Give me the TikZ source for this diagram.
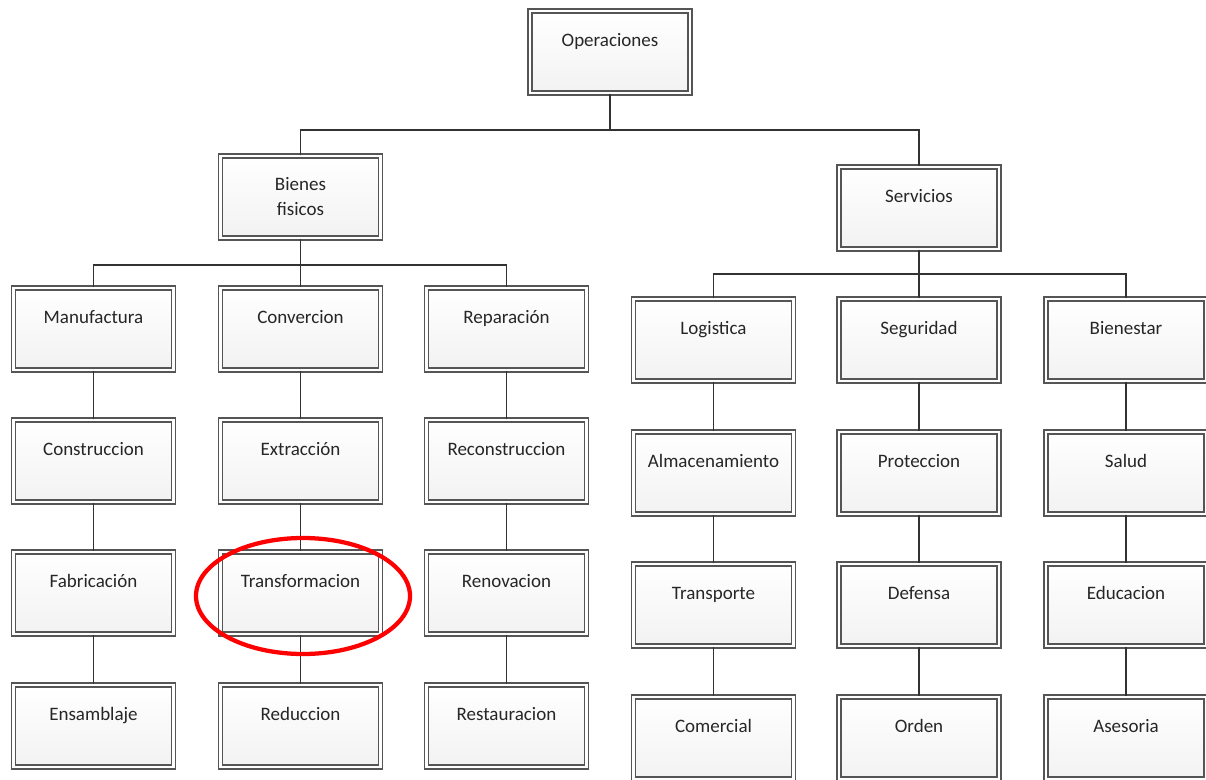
\documentclass[tikz,border=0pt]{standalone}
\usepackage{fontspec}
\setmainfont{Carlito}
\usetikzlibrary{shadows}
\definecolor{boxline}{RGB}{85,85,85}
\definecolor{linecol}{RGB}{50,50,50}
\begin{document}
\begin{tikzpicture}[x=0.75pt,y=-0.75pt,
  box/.style={draw=boxline, line width=0.8pt, double=white, double distance=2.2pt,
    top color=white, bottom color=black!5,
    general shadow={shadow xshift=0.8pt, shadow yshift=-0.8pt, fill=black, opacity=0.1},
    minimum width=120pt, minimum height=61.5pt, inner sep=0pt,
    font=\fontsize{14.25}{18.75}\selectfont, text=black!85,
    text height=9.75pt, text depth=18pt},
  twoline/.style={text height={}, text depth={}, align=center},
  link/.style={draw=linecol, line width=0.9pt}]
\useasboundingbox (0,0) rectangle (1206,780);

% root
\node[box] (op) at (610,52) {Operaciones};

% second level
\node[box, twoline] (bf) at (300.5,197) {Bienes\\fisicos};
\node[box] (sv) at (919,208) {Servicios};

% goods branch
\node[box] (a1) at (93.5,329) {Manufactura};
\node[box] (a2) at (93.5,461) {Construccion};
\node[box] (a3) at (93.5,593) {Fabricación};
\node[box] (a4) at (93.5,726) {Ensamblaje};

\node[box] (b1) at (300.5,329) {Convercion};
\node[box] (b2) at (300.5,461) {Extracción};
\node[box] (b3) at (300.5,593) {Transformacion};
\node[box] (b4) at (300.5,726) {Reduccion};

\node[box] (c1) at (506.5,329) {Reparación};
\node[box] (c2) at (506.5,461) {Reconstruccion};
\node[box] (c3) at (506.5,593) {Renovacion};
\node[box] (c4) at (506.5,726) {Restauracion};

% services branch
\node[box] (d1) at (713.5,340) {Logistica};
\node[box] (d2) at (713.5,473) {Almacenamiento};
\node[box] (d3) at (713.5,605) {Transporte};
\node[box] (d4) at (713.5,738) {Comercial};

\node[box] (e1) at (919,340) {Seguridad};
\node[box] (e2) at (919,473) {Proteccion};
\node[box] (e3) at (919,605) {Defensa};
\node[box] (e4) at (919,738) {Orden};

\node[box] (f1) at (1126,340) {Bienestar};
\node[box] (f2) at (1126,473) {Salud};
\node[box] (f3) at (1126,605) {Educacion};
\node[box] (f4) at (1126,738) {Asesoria};

% junction points of the buses
\coordinate (j0) at (610,130);
\coordinate (j1) at (300.5,265);
\coordinate (j2) at (919,274);

% connectors
\draw[link] (op.south) -- (j0);
\draw[link] (bf.north) |- (j0) -| (sv.north);

\draw[link] (bf.south) -- (j1);
\draw[link] (a1.north) |- (j1) -| (c1.north);
\draw[link] (j1) -- (b1.north);

\draw[link] (sv.south) -- (j2);
\draw[link] (d1.north) |- (j2) -| (f1.north);
\draw[link] (j2) -- (e1.north);

\foreach \c in {a,b,c,d,e,f}{
  \draw[link] (\c1) -- (\c2);
  \draw[link] (\c2) -- (\c3);
  \draw[link] (\c3) -- (\c4);
}

% highlight
\draw[red, line width=3.2pt] (303,596) ellipse [x radius=107, y radius=58];
\end{tikzpicture}
\end{document}
